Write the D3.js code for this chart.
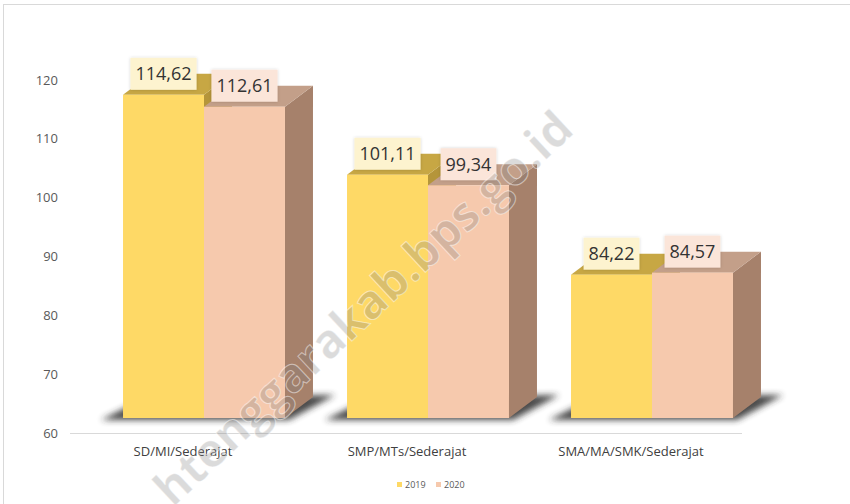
<!DOCTYPE html>
<html>
<head>
<meta charset="utf-8">
<script src="https://cdn.jsdelivr.net/npm/d3@7"></script>
<style>
	body { margin: 0; background: #fff; }
	text { font-family: "Open Sans", "Noto Sans", sans-serif; }
</style>
</head>
<body>
<svg id="chart" width="850" height="504"></svg>
<script>
// data
var categories = ["SD/MI/Sederajat", "SMP/MTs/Sederajat", "SMA/MA/SMK/Sederajat"];
var years = ["2019", "2020"];
var values2019 = [114.62, 101.11, 84.22];
var values2020 = [112.61, 99.34, 84.57];
var yTicks = [60, 70, 80, 90, 100, 110, 120];

var svg = d3.select("#chart");
var depthX = 28, depthY = 21; // 3d box depth

var colors = {
	"2019": { front: "#fed966", top: "#c7a744", side: "#b5953a", box: "#fdf3cf" },
	"2020": { front: "#f6c9ad", top: "#c39f89", side: "#a6816b", box: "#fbe5d9" }
};

// scales: axis scale and the (perspective shifted) front face scale
var yScale = d3.scaleLinear().domain([60, 120]).range([433, 80]);
var yFront = d3.scaleLinear().domain([60, 120]).range([418, 63]);
var xGroup = d3.scaleBand().domain(categories).range([92, 764]).paddingInner(0.277).paddingOuter(0.1385);
var xSub = d3.scaleBand().domain(years).range([0, xGroup.bandwidth()]);

var defs = svg.append("defs");
defs.append("filter").attr("id", "blur").attr("x", "-30%").attr("y", "-100%").attr("width", "160%").attr("height", "300%")
	.append("feGaussianBlur").attr("stdDeviation", 3);
var sh = defs.append("filter").attr("id", "boxShadow").attr("x", "-20%").attr("y", "-30%").attr("width", "140%").attr("height", "160%");
sh.append("feDropShadow").attr("dx", 0).attr("dy", 0).attr("stdDeviation", 1.5).attr("flood-color", "#000").attr("flood-opacity", 0.18);

// outer frame
svg.append("rect").attr("x", 3.5).attr("y", 4.5).attr("width", 900).attr("height", 600)
	.attr("fill", "none").attr("stroke", "#d9d9d9");

// y axis labels
svg.append("g").selectAll("text").data(yTicks).enter().append("text")
	.attr("x", 58).attr("y", function (d) { return yScale(d); }).attr("dy", "0.35em")
	.attr("text-anchor", "end").style("font-size", "13px").style("fill", "#595959")
	.text(function (d) { return d; });

// floor line
svg.append("line").attr("x1", 70).attr("x2", 742).attr("y1", yScale(60) + 0.5).attr("y2", yScale(60) + 0.5)
	.attr("stroke", "#d9d9d9").attr("stroke-width", 1.2);

var series = { "2019": values2019, "2020": values2020 };
var yb = yFront(60);

categories.forEach(function (cat, i) {
	var g = svg.append("g");
	var gx0 = xGroup(cat), gx1 = gx0 + xGroup.bandwidth();
	// floor shadow
	g.append("polygon")
		.attr("points", [[gx0 - 22, yb + 2], [gx1 + 4, yb + 2], [gx1 + depthX + 22, yb - depthY - 2], [gx0 + depthX - 4, yb - depthY]].join(" "))
		.attr("fill", "#2b2b2b").attr("opacity", 0.85).attr("filter", "url(#blur)");
	years.forEach(function (yr) {
		var v = series[yr][i];
		var c = colors[yr];
		var x0 = gx0 + xSub(yr), x1 = x0 + xSub.bandwidth();
		var yt = yFront(v);
		g.append("polygon")
			.attr("points", [[x1, yt], [x1 + depthX, yt - depthY], [x1 + depthX, yb - depthY], [x1, yb]].join(" "))
			.attr("fill", c.side);
		g.append("polygon")
			.attr("points", [[x0, yt], [x1, yt], [x1 + depthX, yt - depthY], [x0 + depthX, yt - depthY]].join(" "))
			.attr("fill", c.top);
		g.append("rect").attr("x", x0).attr("y", yt).attr("width", x1 - x0).attr("height", yb - yt)
			.attr("fill", c.front);
	});
	// value labels
	years.forEach(function (yr) {
		var v = series[yr][i];
		var cx = gx0 + xSub(yr) + xSub.bandwidth() / 2;
		var cy = yFront(v) - 21;
		var lg = g.append("g");
		var box = lg.append("rect").attr("fill", colors[yr].box).attr("filter", "url(#boxShadow)");
		var t = lg.append("text").attr("x", cx).attr("y", cy).attr("dy", "0.36em")
			.attr("text-anchor", "middle").style("font-size", "18px").style("fill", "#333")
			.text(d3.format(".2f")(v).replace(".", ","));
		var w = t.node().getComputedTextLength() + 10;
		box.attr("x", cx - w / 2).attr("y", cy - 16).attr("width", w).attr("height", 32);
	});
	// category label
	g.append("text").attr("x", (gx0 + gx1) / 2 - 21).attr("y", 456)
		.attr("text-anchor", "middle").style("font-size", "13px").style("fill", "#404040")
		.text(cat);
});

// legend
var legend = svg.append("g").attr("transform", "translate(397,482)");
years.forEach(function (yr, k) {
	var lx = k * 39;
	legend.append("rect").attr("x", lx).attr("y", 0).attr("width", 5).attr("height", 5).attr("fill", colors[yr].front);
	legend.append("text").attr("x", lx + 8).attr("y", 2.5).attr("dy", "0.35em")
		.style("font-size", "9px").style("fill", "#595959").text(yr);
});

// watermark (only the visible part of the address)
svg.append("text").attr("transform", "translate(576,132) rotate(-43)")
	.attr("text-anchor", "end").style("font-size", "47px").style("font-weight", "700")
	.style("fill", "#7f7f7f").style("fill-opacity", 0.28)
	.style("stroke", "#fff").style("stroke-opacity", 0.5).style("stroke-width", 1)
	.text("htenggarakab.bps.go.id");
</script>
</body>
</html>
